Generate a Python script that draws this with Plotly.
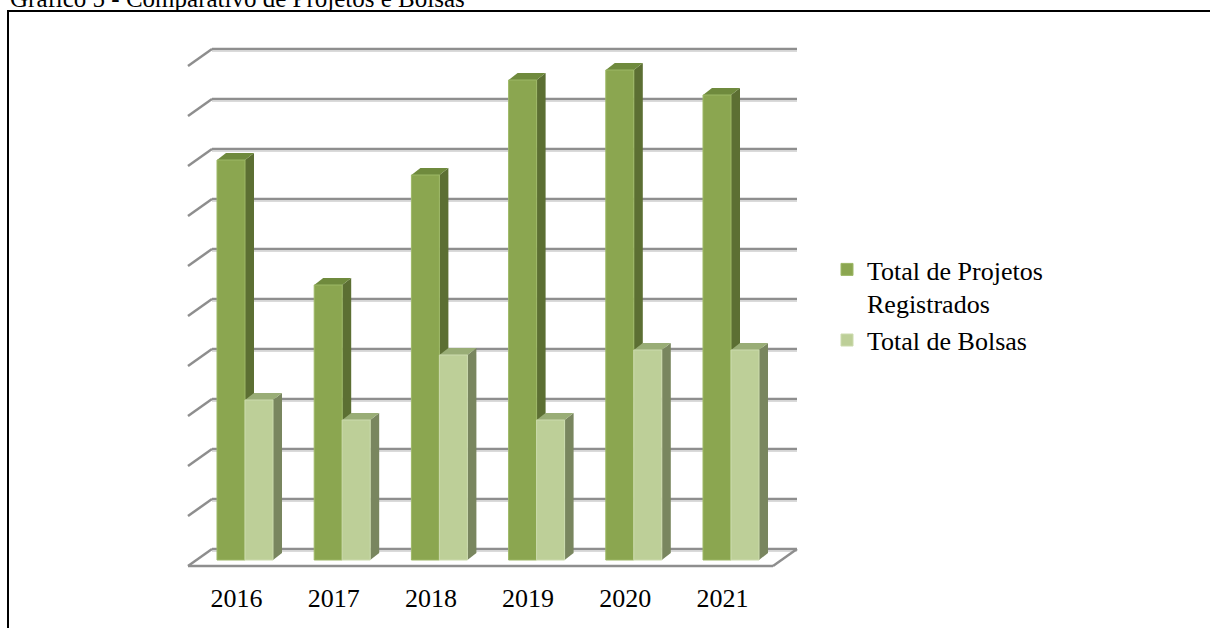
import plotly.graph_objects as go

# ---- data -------------------------------------------------------------
years = ["2016", "2017", "2018", "2019", "2020", "2021"]
projetos = [80, 55, 77, 96, 98, 93]   # Total de Projetos Registrados
bolsas = [32, 28, 41, 28, 42, 42]     # Total de Bolsas
grid_values = [0, 10, 20, 30, 40, 50, 60, 70, 80, 90, 100]

# ---- geometry (pixel sizes converted to axis units) --------------------
W, H = 1210, 628
MARGIN_B = 48
PX_PER_CAT = 97.2            # horizontal pixels per category
PX_PER_UNIT = 5.0            # vertical pixels per value unit
X0_PX = 245                  # pixel position of the first category centre
ZERO_PX = 560                # pixel row of value 0 on the bar plane

ux = 1.0 / PX_PER_CAT        # axis units per pixel (x)
uy = 1.0 / PX_PER_UNIT       # axis units per pixel (y)

BAR_W = 28 * ux
BAR_DX, BAR_DY = 9 * ux, 7 * uy          # bar depth
WALL_DX, WALL_DY = 15.5 * ux, 11 * uy    # bar plane -> back wall
FRONT_DX, FRONT_DY = -8.5 * ux, -6 * uy  # bar plane -> front floor edge
PLANE_L, PLANE_R = (196.5 - X0_PX) * ux, (781.5 - X0_PX) * ux

x_range = [-X0_PX * ux, (W - X0_PX) * ux]
plot_h = H - MARGIN_B
y_range = [-(plot_h - ZERO_PX) * uy, ZERO_PX * uy]

xs = list(range(len(years)))
# category labels sit under the front edge of the floor
label_pos = [x + FRONT_DX for x in xs]

DARK = dict(front="#8BA650", side="#5C6F33", top="#6F8A3D", edge="#9DB866")
LIGHT = dict(front="#BDCF98", side="#79865F", top="#99AD76", edge="#CCDBAE")
GRID = "#8E8E8E"

fig = go.Figure()

fig.add_trace(go.Bar(
    x=xs, y=projetos, name="Total de Projetos<br>Registrados",
    width=BAR_W, offset=-BAR_W,
    marker=dict(color=DARK["front"], line=dict(color=DARK["edge"], width=1)),
))
fig.add_trace(go.Bar(
    x=xs, y=bolsas, name="Total de Bolsas",
    width=BAR_W, offset=0,
    marker=dict(color=LIGHT["front"], line=dict(color=LIGHT["edge"], width=1)),
))

shapes = []


def poly(pts, color):
    path = "M " + " L ".join(f"{px:.5f},{py:.5f}" for px, py in pts) + " Z"
    return dict(type="path", xref="x", yref="y", path=path, fillcolor=color,
                line=dict(width=0), layer="below")


def seg(xa, ya, xb, yb, color=GRID, width=2.5):
    return dict(type="line", xref="x", yref="y", x0=xa, y0=ya, x1=xb, y1=yb,
                line=dict(color=color, width=width), layer="below")


# back wall gridlines and left wall diagonals
wall_l, wall_r = PLANE_L + WALL_DX, PLANE_R + WALL_DX
front_l, front_r = PLANE_L + FRONT_DX, PLANE_R + FRONT_DX
depth_dx = WALL_DX - FRONT_DX
depth_dy = WALL_DY - FRONT_DY
for v in grid_values:
    yb = v + WALL_DY
    shapes.append(seg(wall_l, yb - 0.45, wall_r, yb - 0.45, "#DADADA", 1.5))
    shapes.append(seg(wall_l, yb, wall_r, yb))
    shapes.append(seg(wall_l, yb, wall_l - depth_dx, yb - depth_dy))

# floor front edge and right diagonal
shapes.append(seg(front_l, FRONT_DY, front_r, FRONT_DY))
shapes.append(seg(front_r, FRONT_DY, front_r + depth_dx, FRONT_DY + depth_dy))

# bar side and top faces, computed from the same values as the bars
for values, offset, pal in ((projetos, -BAR_W, DARK), (bolsas, 0.0, LIGHT)):
    for xi, v in zip(xs, values):
        xl = xi + offset
        xr = xl + BAR_W
        shapes.append(poly([(xr, 0), (xr, v), (xr + BAR_DX, v + BAR_DY),
                            (xr + BAR_DX, BAR_DY)], pal["side"]))
        shapes.append(poly([(xl, v), (xr, v), (xr + BAR_DX, v + BAR_DY),
                            (xl + BAR_DX, v + BAR_DY)], pal["top"]))

# black frame around the figure
shapes.append(dict(type="rect", xref="paper", yref="paper",
                   x0=8 / W, x1=1.02, y0=-0.2, y1=1 - 11 / plot_h,
                   line=dict(color="black", width=2), layer="above"))

fig.update_layout(
    width=W, height=H,
    margin=dict(l=0, r=0, t=0, b=MARGIN_B),
    paper_bgcolor="white", plot_bgcolor="white",
    barmode="overlay",
    shapes=shapes,
    showlegend=True,
    legend=dict(
        x=827 / W, y=1 - 246 / plot_h, xanchor="left", yanchor="top",
        valign="top", itemwidth=30,
        font=dict(family="Liberation Serif", size=26, color="black"),
        bgcolor="rgba(0,0,0,0)", tracegroupgap=4,
    ),
    xaxis=dict(
        range=x_range, tickmode="array", tickvals=label_pos, ticktext=years,
        showgrid=False, zeroline=False, showline=False, ticks="",
        tickfont=dict(family="Liberation Serif", size=26, color="black"),
        fixedrange=True,
    ),
    yaxis=dict(
        range=y_range, showgrid=False, zeroline=False, showline=False,
        showticklabels=False, fixedrange=True,
    ),
    annotations=[dict(
        text="Gráfico 5 - Comparativo de Projetos e Bolsas",
        xref="paper", yref="paper", x=8 / W, y=1 - 14 / plot_h,
        xanchor="left", yanchor="bottom", showarrow=False,
        font=dict(family="Liberation Serif", size=25, color="black"),
    )],
)

fig.write_html("out.html")
